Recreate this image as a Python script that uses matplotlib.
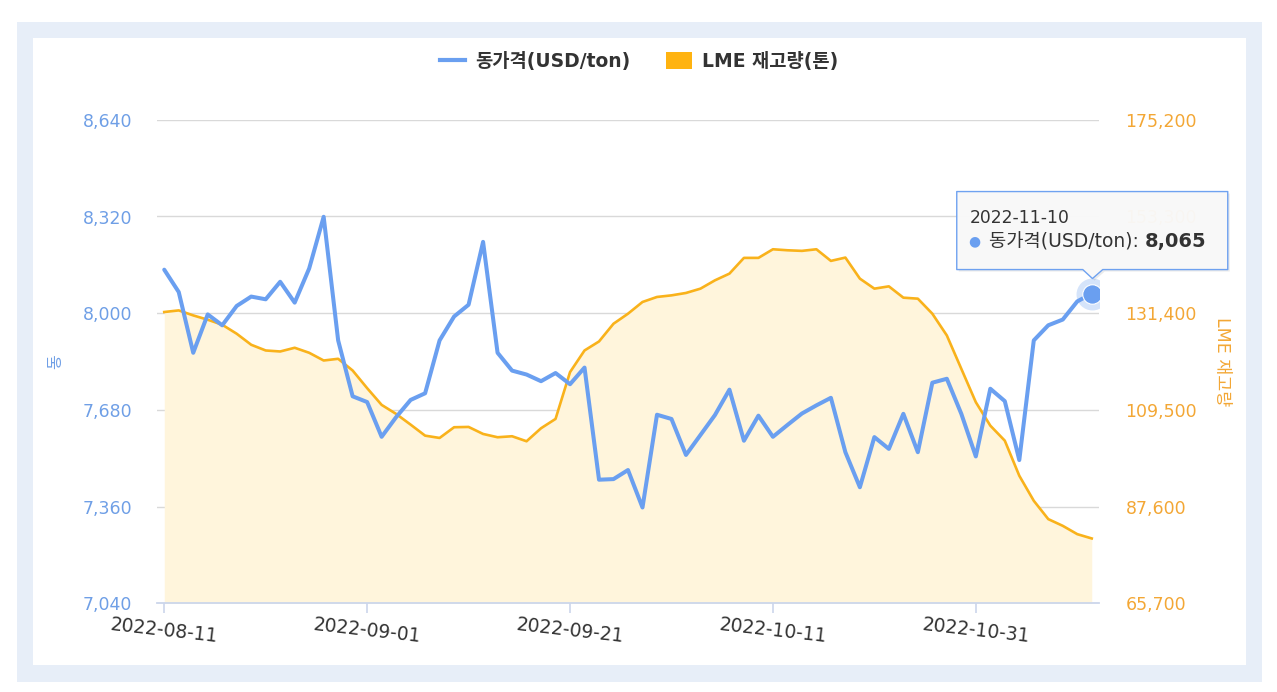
import matplotlib
matplotlib.use('Agg')
import matplotlib.pyplot as plt
from matplotlib.patches import Rectangle, Polygon, Patch
from matplotlib.lines import Line2D
from matplotlib.text import Annotation
from matplotlib.ticker import FuncFormatter

plt.rcParams['font.family'] = ['DejaVu Sans', 'Noto Sans CJK KR']

dates = ['2022-08-11', '2022-08-12', '2022-08-15', '2022-08-16', '2022-08-17', '2022-08-18',
         '2022-08-19', '2022-08-22', '2022-08-23', '2022-08-24', '2022-08-25', '2022-08-26',
         '2022-08-30', '2022-08-31', '2022-09-01', '2022-09-02', '2022-09-05', '2022-09-06',
         '2022-09-07', '2022-09-08', '2022-09-09', '2022-09-12', '2022-09-13', '2022-09-14',
         '2022-09-15', '2022-09-16', '2022-09-19', '2022-09-20', '2022-09-21', '2022-09-22',
         '2022-09-23', '2022-09-26', '2022-09-27', '2022-09-28', '2022-09-29', '2022-09-30',
         '2022-10-03', '2022-10-04', '2022-10-05', '2022-10-06', '2022-10-07', '2022-10-10',
         '2022-10-11', '2022-10-12', '2022-10-13', '2022-10-14', '2022-10-17', '2022-10-18',
         '2022-10-19', '2022-10-20', '2022-10-21', '2022-10-24', '2022-10-25', '2022-10-26',
         '2022-10-27', '2022-10-28', '2022-10-31', '2022-11-01', '2022-11-02', '2022-11-03',
         '2022-11-04', '2022-11-07', '2022-11-08', '2022-11-09', '2022-11-10']

copper_price = [8144, 8070, 7869, 7996, 7960, 8024, 8055, 8046, 8104, 8035, 8148, 8319,
                7910, 7725, 7706, 7591, 7656, 7713, 7735, 7910, 7989, 8028, 8236,
                7869, 7810, 7797, 7775, 7802, 7765, 7820, 7449, 7451, 7481, 7357, 7664,
                7650, 7531, 7597, 7663, 7747, 7578, 7661, 7591,
                7630, 7668, 7695, 7720, 7540, 7424, 7590, 7551, 7667, 7540, 7770, 7783,
                7667, 7526, 7750, 7709, 7514, 7910, 7960, 7979, 8039, 8065]

lme_stock = [131670, 132035, 130900, 129925, 128790, 126748, 124251, 122958, 122731, 123571,
             122436, 120688, 121074, 118419, 114425, 110635, 108593, 106165, 103668, 103146,
             105574, 105642, 104054,
             103305, 103532, 102397, 105347, 107458, 118056, 122958, 125000, 129017, 131287,
             133942, 135077, 135440, 135984, 136960, 138844, 140364, 143927, 143927, 145879,
             145652, 145516, 145879, 143246, 143995, 139229, 136960, 137482, 134918, 134691,
             131287, 126362, 118805, 111248, 105937, 102533, 94590, 88917, 84764, 83243,
             81360, 80384]

left_ticks = [7040, 7360, 7680, 8000, 8320, 8640]
right_ticks = [65700, 87600, 109500, 131400, 153300, 175200]
xtick_idx = [0, 14, 28, 42, 56]

series_names = ['동가격(USD/ton)', 'LME 재고량(톤)']
left_label = '동'
right_label = 'LME 재고량'

BLUE = '#6a9ff0'
BLUE_TXT = '#6f9fe6'
ORANGE = '#f9b21b'
ORANGE_TXT = '#f3a735'
FILL = '#fff5dc'

W, H = 1277, 692
fig = plt.figure(figsize=(W / 100, H / 100), dpi=100)
fig.patch.set_facecolor('white')
fig.add_artist(Rectangle((17 / W, 1 - 682 / H), 1245 / W, 660 / H, transform=fig.transFigure,
                         facecolor='#e7eef8', edgecolor='none', zorder=-10))
fig.add_artist(Rectangle((33 / W, 1 - 665 / H), 1213 / W, 627 / H, transform=fig.transFigure,
                         facecolor='white', edgecolor='none', zorder=-9))

ax = fig.add_axes([157 / W, 1 - 603.3 / H, 942 / W, 483.5 / H])
ax2 = ax.twinx()
ax.set_zorder(ax2.get_zorder() + 1)
ax.patch.set_visible(False)
ax2.patch.set_visible(False)

x = list(range(len(dates)))
ax2.fill_between(x, lme_stock, right_ticks[0], color=FILL, lw=0, zorder=1)
ax2.plot(x, lme_stock, color=ORANGE, lw=1.9, zorder=2, solid_joinstyle='round')
ax.plot(x, copper_price, color=BLUE, lw=2.9, zorder=3, solid_joinstyle='round',
        solid_capstyle='round')
ax.plot(x[-1], copper_price[-1], 'o', ms=23, color=BLUE, alpha=0.28, mec='none', zorder=4)
ax.plot(x[-1], copper_price[-1], 'o', ms=14, color=BLUE, mec='white', mew=0.8, zorder=5)

ax.set_xlim(-0.5, len(dates) - 0.5)
ax.set_ylim(left_ticks[0], left_ticks[-1])
ax2.set_ylim(right_ticks[0], right_ticks[-1])
ax.set_yticks(left_ticks)
ax2.set_yticks(right_ticks)
fmt = FuncFormatter(lambda v, p: f'{v:,.0f}')
ax.yaxis.set_major_formatter(fmt)
ax2.yaxis.set_major_formatter(fmt)

ax2.grid(axis='y', color='#d9d9d9', lw=1)
ax2.set_axisbelow(True)
ax.grid(False)

for s in ['top', 'left', 'right']:
    ax.spines[s].set_visible(False)
for s in ax2.spines.values():
    s.set_visible(False)
ax.spines['bottom'].set_color('#ccd6eb')
ax.spines['bottom'].set_linewidth(1.3)

ax.tick_params(axis='y', length=0, pad=18, labelcolor=BLUE_TXT, labelsize=12.5)
ax2.tick_params(axis='y', length=0, pad=19, labelcolor=ORANGE_TXT, labelsize=12.5)
ax.set_xticks(xtick_idx)
ax.set_xticklabels([dates[i] for i in xtick_idx], rotation=-6.5, ha='center')
ax.tick_params(axis='x', length=7, width=1.2, color='#ccd6eb', labelcolor='#333333',
               labelsize=13.5, pad=1.5)

fig.text(56 / W, 1 - 362 / H, left_label, rotation=90, color=BLUE_TXT, fontsize=11.5,
         ha='center', va='center')
fig.text(1222 / W, 1 - 362 / H, right_label, rotation=-90, color=ORANGE_TXT, fontsize=12.5,
         ha='center', va='center')

handles = [Line2D([], [], color=BLUE, lw=3), Patch(facecolor='#ffb310', edgecolor='none')]
fig.legend(handles, series_names, loc='center', bbox_to_anchor=(0.5004, 1 - 61.5 / H), ncol=2,
           frameon=False, prop={'weight': 'bold', 'size': 13.5}, labelcolor='#333333',
           handlelength=1.35, handleheight=1.0, handletextpad=0.55, columnspacing=1.9)

# tooltip anchored to last point
px, py = ax.transData.transform((x[-1], copper_price[-1]))
L, R, T, B = px - 135, px + 136, py + 102, py + 24
pts = [(L, B), (px - 9, B), (px + 0.7, py + 15), (px + 11, B), (R, B), (R, T), (L, T)]
shadow = Polygon([((a + 2) / W, (b - 2) / H) for a, b in pts], closed=True,
                 transform=fig.transFigure, facecolor='black', alpha=0.08, edgecolor='none',
                 zorder=9)
box = Polygon([(a / W, b / H) for a, b in pts], closed=True, transform=fig.transFigure,
              facecolor='#f9f9f9', alpha=0.97, edgecolor=BLUE, lw=1, joinstyle='round',
              zorder=10)
fig.add_artist(shadow)
fig.add_artist(box)
fig.text((px - 122) / W, (py + 76) / H, dates[-1], fontsize=12.3, color='#333333',
         ha='left', va='center', zorder=11)
fig.text((px - 117) / W, (py + 52) / H, '●', fontsize=10, color=BLUE, ha='center',
         va='center', zorder=11)
t2 = fig.text((px - 103) / W, (py + 52) / H, series_names[0] + ': ', fontsize=13.5,
              color='#333333', ha='left', va='center', zorder=11)
ann = Annotation(f'{copper_price[-1]:,}', xy=(1, 0.5), xycoords=t2, ha='left', va='center',
                 fontsize=14, weight='bold', color='#333333', zorder=11)
fig.add_artist(ann)

fig.savefig('out.png', dpi=100)
